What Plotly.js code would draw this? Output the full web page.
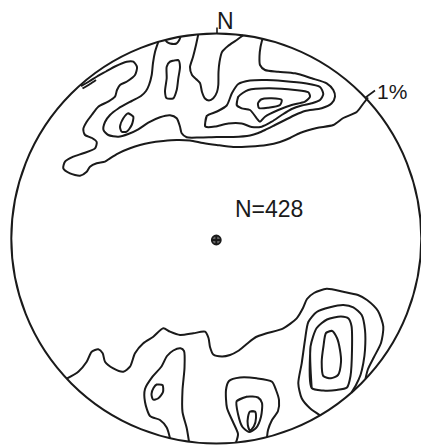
<!DOCTYPE html>
<html>
<head>
<meta charset="utf-8">
<script src="https://cdn.plot.ly/plotly-3.0.1.min.js"></script>
<style>html,body{margin:0;padding:0;background:#fff;}#chart{width:421px;height:445px;}</style>
</head>
<body>
<div id="chart"></div>
<script>
// Contour lines (image pixel coordinates, x right, y down)
const stationCount = 428;
const lowestContourLabel = "1%";

const topOuter = [[81,86],[89,81.5],[97,76.5],[106,71.5],[115,66.5],[126.7,61.7],[133.3,61.7],[137,67],[135,75],[127,81.5],[120,85],[117,90],[115,96.7],[108,101.7],[98.3,106.7],[91.7,115],[86.7,121.7],[83.3,129],[85,135],[92,138],[96.7,142],[95,148.3],[83.3,153.3],[73.3,156.7],[65,161.7],[63.3,168.3],[70,173.3],[80,175.7],[86.7,171.7],[90,166.7],[96.7,163.3],[105,161.7],[110,158.3],[118.3,153.3],[130,148.3],[140,145],[150,142.7],[163.3,141],[176.7,140],[190,140.5],[203,143],[216.7,145],[233.3,147],[250,146.5],[266.7,145],[280,142],[290,138],[300,133],[316.7,128],[333.3,125],[343.3,118],[356.7,112],[363,104],[368,97.5]];
const topSliver = [[82.5,88.5],[90,84],[96,80]];
const topSecond = [[158.3,41.9],[155,52],[153,63],[151.7,75],[149,85],[146,91],[141,96],[131.7,101],[118.3,108.5],[110,115],[105,122],[103.5,130],[108.3,135],[118.3,136.7],[128.3,134],[138.3,129.3],[148.3,122.7],[160,117.3],[170,115.3],[176.7,118.3],[180,126.7],[181.7,133.3],[186.7,137.3],[200,137.5],[216.7,137],[233.3,137],[250,135.5],[258.3,133],[265,130],[275,125],[285,120],[295,115],[305,111],[321.7,108.3],[331.7,103.3],[335,96.7],[333.3,90],[326.7,83.3],[311.7,78.3],[295,73.3],[278.3,71.7],[265,70],[260,65],[259.5,56],[260.5,47],[262.5,38.8]];
const topFinger = [[198.3,34.3],[196,45],[193,57],[190,67],[192,75],[196,79],[200,83],[202,92],[205,98.5],[209,100.5],[213.3,98.3],[217,92],[218.3,85],[218.5,72],[219.5,62],[222,52],[228,46],[236,40.5],[243.3,35.3]];
const topBump = [[165.5,39.9],[167,42],[170,43.5],[176.5,43.5],[179,40.5],[180.5,36.8]];
const topIsleA = [[170,61.7],[178.3,60],[180,66.7],[178.3,78.3],[176.7,90],[173.3,98.3],[166.7,98.3],[165,91.7],[166.7,78.3],[166.7,66.7]];
const topIsleB = [[128.3,113.3],[133.3,116.7],[131.7,125],[126.7,131.7],[121.7,131.7],[120,126.7],[123.3,118.3]];
const topThird = [[205,126],[206.7,116],[217,111.5],[226.7,105.5],[232,93],[238.3,84],[250,80.5],[266.7,80],[283,81],[305,83.3],[320,87],[323.3,94],[320,100],[311.7,103.3],[301.7,105.5],[291.7,109],[281.7,115],[271.7,121.7],[261.7,126.7],[251.7,127],[241.7,123.5],[228.3,123.5],[215,126.5],[206.7,127]];
const topFourth = [[236.7,105],[238.3,96.7],[248.3,90],[268.3,88.3],[295,90],[308.3,92.3],[310,96.7],[305,101.7],[291.7,105],[278.3,110],[265,116.7],[260,121.7],[256.7,118.3],[250,110],[241.7,108.3]];
const topFifth = [[258,103],[261,99.5],[271.7,98.3],[281.7,100],[280,105],[268.3,107.7],[259,108]];

const botOuter = [[66.7,378.7],[78.3,371.7],[86.7,361.7],[91.7,351.7],[98.3,349.3],[102.7,353.3],[105,361.7],[113.3,368.3],[123.3,371.7],[130,366.7],[135,353.3],[143.3,343.3],[153.3,336.7],[163.3,328.3],[170,331.7],[180,335],[193.3,333.3],[205,331.7],[208.5,338],[210,347],[213.3,354.5],[222,356.5],[230,355],[238,351],[246.7,344],[256,337],[266.7,333.3],[283.3,328.3],[296.7,318.3],[303,308],[307,299],[314,293],[326.7,288.8],[343.3,291.7],[358,295],[367,300],[378,311],[383.3,326.7],[381,343],[374,357],[368,369],[365.5,378.7]];
const botRight2 = [[320,415.3],[310,408.3],[301.7,398.3],[298.3,383.3],[301.7,363.3],[305,340],[308.3,322],[316.7,312],[330,307.3],[343.3,305],[353.3,307.3],[361.7,315],[365,330],[365,350],[363.3,363.3],[360.5,375],[356,385],[351.5,392.6]];
const botRight3 = [[311.7,388],[310.5,346.7],[316.7,328],[327,319.5],[341,316.5],[348.5,318.5],[351.5,326],[352,350],[350.5,376],[347,387.5],[336.7,390],[323.3,390.5]];
const botRight4 = [[326,333],[331.7,330.8],[337,338],[340,350],[341,362],[338,375],[331,378.3],[323.3,376],[321.7,362],[323.5,346]];
const botMid2 = [[236,442.5],[238,434],[233,422],[227,408],[226,390],[229,381],[240,377.5],[256.7,378.3],[272,381.7],[276,390],[279,400],[278,411],[272,420],[268,430],[267,437.1]];
const botMid3 = [[236.7,401],[246.7,396.7],[258,397.5],[262,403],[261,416.7],[256,428],[249,432],[242.5,427],[238,414]];
const botMid4 = [[250,411.5],[255,411.5],[256,418],[254,426],[250,430.5],[247.8,425],[248,417]];
const botLeft2 = [[170,438.2],[166.7,427.5],[160,420],[150,416],[145,402],[145,389],[152.5,376.7],[161.5,366.5],[167,356],[173.3,350.5],[180.5,348.3],[184,351],[184.5,368],[182.5,390],[182.5,412],[186.7,428],[189,441.7]];
const botLeft3 = [[156.7,384.5],[162.5,385],[163,392],[158,398.5],[153,399.5],[151.5,394],[153.5,388]];

const openLines = [topOuter, topSliver, topSecond, topFinger, topBump, botOuter, botRight2, botMid2, botLeft2];
const closedLoops = [topIsleA, topIsleB, topThird, topFourth, topFifth, botRight3, botRight4, botMid3, botMid4, botLeft3];

const CX = 216.3, CY = 238.5, R = 205;
const nx = p => (p - CX) / R;
const ny = p => (CY - p) / R;

const INK = '#1a1a1a';
const traces = [];
function addLine(pts, closed) {
  const p = closed ? pts.concat([pts[0], pts[1]]) : pts;
  traces.push({
    type: 'scatter', mode: 'lines',
    x: p.map(q => nx(q[0])), y: p.map(q => ny(q[1])),
    line: {color: INK, width: 2, shape: 'spline', smoothing: 0.7},
    hoverinfo: 'skip'
  });
}
openLines.forEach(l => addLine(l, false));
closedLoops.forEach(l => addLine(l, true));

// centre of the net
traces.push({type: 'scatter', mode: 'markers', x: [0], y: [ny(240)],
  marker: {symbol: 'circle-cross', size: 9, color: '#666', line: {width: 1.8, color: INK}}, hoverinfo: 'skip'});

const layout = {
  width: 421, height: 445,
  margin: {l: 0, r: 0, t: 0, b: 0},
  paper_bgcolor: '#fff', plot_bgcolor: '#fff',
  showlegend: false,
  xaxis: {range: [nx(0), nx(421)], visible: false, fixedrange: true},
  yaxis: {range: [ny(445), ny(0)], visible: false, fixedrange: true},
  shapes: [
    {type: 'circle', xref: 'x', yref: 'y', x0: -1, y0: -1, x1: 1, y1: 1, line: {color: INK, width: 2}},
    {type: 'line', xref: 'x', yref: 'y', x0: nx(217), y0: ny(27.5), x1: nx(217), y1: ny(33.5), line: {color: INK, width: 1.6}},
    {type: 'line', xref: 'x', yref: 'y', x0: nx(365.5), y0: ny(97.5), x1: nx(375), y1: ny(90.5), line: {color: INK, width: 1.6}}
  ],
  annotations: [
    {text: 'N', x: nx(225.5), y: ny(21), xref: 'x', yref: 'y', showarrow: false,
     font: {family: 'Liberation Sans, Arial, sans-serif', size: 23, color: INK}},
    {text: lowestContourLabel, x: nx(392), y: ny(91), xref: 'x', yref: 'y', showarrow: false,
     font: {family: 'Liberation Sans, Arial, sans-serif', size: 21, color: INK}},
    {text: 'N=' + stationCount, x: nx(269), y: ny(209), xref: 'x', yref: 'y', showarrow: false,
     font: {family: 'Liberation Sans, Arial, sans-serif', size: 23, color: INK}}
  ]
};

Plotly.newPlot('chart', traces, layout, {staticPlot: true, displayModeBar: false});
</script>
</body>
</html>
